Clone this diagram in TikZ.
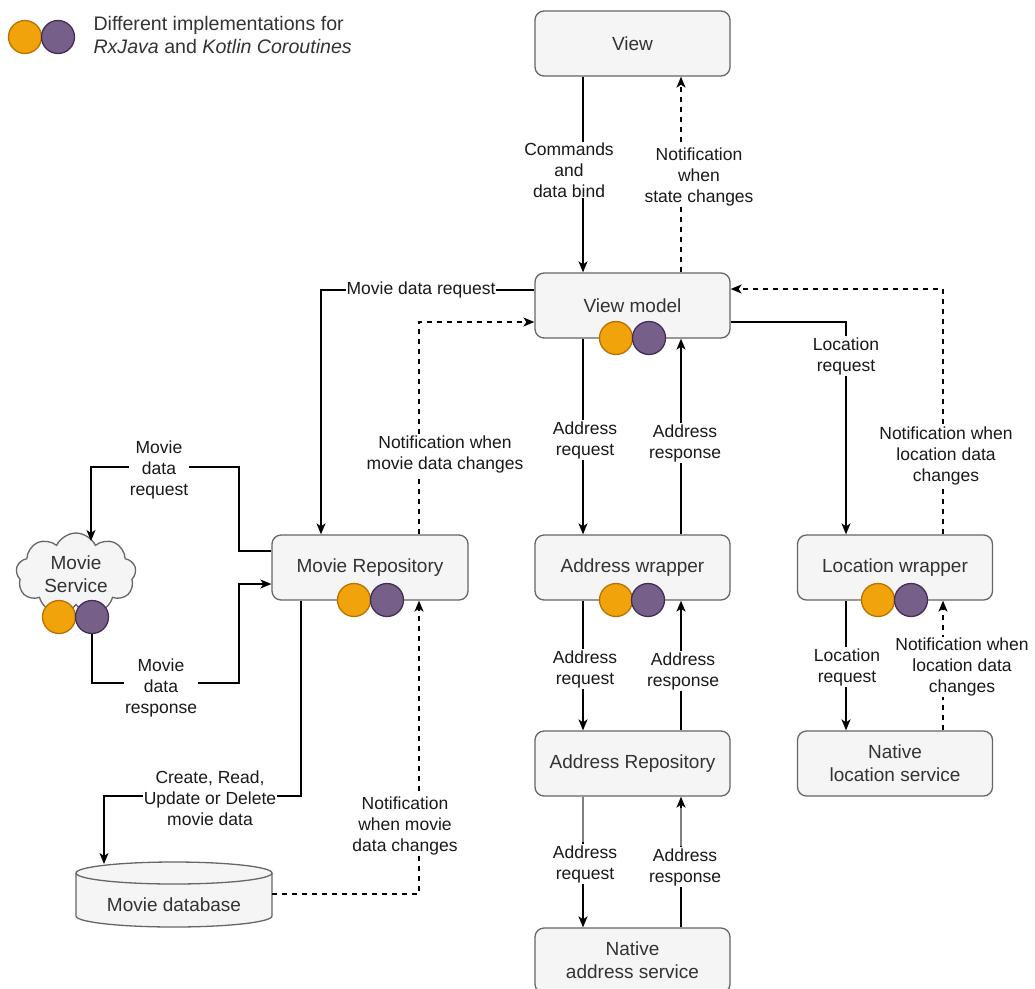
\documentclass[tikz,border=0pt]{standalone}
\usepackage{fontspec}
\setmainfont{Liberation Sans}
\usetikzlibrary{arrows.meta,shapes.symbols}
\definecolor{boxfill}{HTML}{F5F5F5}
\definecolor{boxline}{HTML}{666666}
\definecolor{boxtext}{HTML}{333333}
\definecolor{orfill}{HTML}{F0A30A}
\definecolor{orline}{HTML}{BD7000}
\definecolor{pufill}{HTML}{76608A}
\definecolor{puline}{HTML}{432D57}
\definecolor{greyline}{HTML}{808080}
\tikzset{
 box/.style={draw=boxline, fill=boxfill, line width=1.3pt, rounded corners=9pt, minimum width=195pt, minimum height=65pt, inner sep=0pt, text=boxtext, font=\fontsize{19}{23}\selectfont, align=center},
 conn/.style={line width=1.5pt, -{Stealth[length=11pt,width=9pt,inset=3pt]}},
 dconn/.style={conn, dash pattern=on 5pt off 5pt},
 lbl/.style={fill=white, inner sep=1pt, align=center, font=\fontsize{17.5}{21}\selectfont, text=black!90},
 orc/.style={circle, fill=orfill, draw=orline, line width=1.3pt, minimum size=33pt, inner sep=0pt},
 puc/.style={circle, fill=pufill, draw=puline, line width=1.3pt, minimum size=33pt, inner sep=0pt},
 greyseg/.style={draw=greyline, line width=1.6pt},
}
\begin{document}
\begin{tikzpicture}[x=1pt,y=-1pt]
\useasboundingbox (0,0) rectangle (1035,988);
\clip (0,0) rectangle (1035,988);
% boxes
\node[box] (view) at (632.5,43.5) {View};
\node[box] (vm) at (632.5,305.5) {View model};
\node[box,minimum width=196pt] (mr) at (370,567.5) {Movie Repository};
\node[box] (aw) at (632.5,567.5) {Address wrapper};
\node[box] (lw) at (895,567.5) {Location wrapper};
\node[box] (ar) at (632.5,763.5) {Address Repository};
\node[box] (nls) at (895,763.5) {Native\\location service};
\node[box] (nas) at (632.5,960.5) {Native\\address service};
% cloud
\node[cloud, cloud puffs=9, cloud puff arc=130, aspect=1.5, draw=boxline, fill=boxfill, line width=1.3pt, minimum width=120pt, minimum height=82pt, inner sep=0pt, text=boxtext, font=\fontsize{19}{23}\selectfont, align=center] (ms) at (76,574) {Movie\\Service};
\coordinate (msin) at (91,541);
% database
\node[minimum width=196pt, minimum height=65pt, inner sep=0pt] (db) at (174,894.5) {};
\fill[boxfill] (76,873) -- (76,916) .. controls (76,922.1) and (119.9,927) .. (174,927) .. controls (228.1,927) and (272,922.1) .. (272,916) -- (272,873) -- cycle;
\draw[boxline, line width=1.3pt] (76,873) -- (76,916) .. controls (76,922.1) and (119.9,927) .. (174,927) .. controls (228.1,927) and (272,922.1) .. (272,916) -- (272,873);
\draw[boxline, fill=boxfill, line width=1.3pt] (174,873) ellipse [x radius=98pt, y radius=11pt];
\node[text=boxtext, font=\fontsize{19}{23}\selectfont] (dbt) at (174,905) {Movie database};
\coordinate (dbin) at (104,864);
% circles
\node[orc] (lgo) at (25,37) {};
\node[puc] (lgp) at (58,37) {};
\node[orc] (vmo) at (616,338) {};
\node[puc] (vmp) at (649,338) {};
\node[orc] (mro) at (354,600) {};
\node[puc] (mrp) at (387,600) {};
\node[orc] (awo) at (616,600) {};
\node[puc] (awp) at (648,600) {};
\node[orc] (lwo) at (878,600) {};
\node[puc] (lwp) at (911,600) {};
\node[orc] (mso) at (59,617) {};
\node[puc] (msp) at (92,617) {};
% legend text
\node[anchor=west, align=left, font=\fontsize{19.6}{23}\selectfont, text=boxtext] (lgt) at (90,35) {Different implementations for\\\textit{RxJava} and \textit{Kotlin Coroutines}};
% connectors
\draw[conn] (view.south -| 583,0) -- (vm.north -| 583,0);
\draw[dconn] (vm.north -| 681,0) -- (view.south -| 681,0);
\draw[conn] (vm.west |- 0,290) -| (mr.north -| 321,0);
\draw[dconn] (mr.north -| 419,0) |- (vm.west |- 0,322);
\draw[conn] (vm.south -| 583,0) -- (aw.north -| 583,0);
\draw[conn] (aw.north -| 681,0) -- (vm.south -| 681,0);
\draw[conn] (vm.east |- 0,322) -| (lw.north -| 846,0);
\draw[dconn] (lw.north -| 943,0) |- (vm.east |- 0,289);
\draw[conn] (mr.west |- 0,551) -| (239,467) -| (msin);
\draw[conn] (msp.south) |- (239,683) |- (mr.west |- 0,584);
\draw[conn] (mr.south -| 301,0) -- (301,796) -| (dbin);
\draw[dconn] (db.east |- 0,894) -| (mr.south -| 419,0);
\draw[conn] (aw.south -| 583,0) -- (ar.north -| 583,0);
\draw[conn] (ar.north -| 681,0) -- (aw.south -| 681,0);
\draw[conn] (lw.south -| 846,0) -- (nls.north -| 846,0);
\draw[dconn] (nls.north -| 943,0) -- (lw.south -| 943,0);
\draw[conn] (ar.south -| 583,0) -- (nas.north -| 583,0);
\draw[conn] (nas.north -| 681,0) -- (ar.south -| 681,0);
\draw[greyseg] (ar.south -| 583,0) ++(0,0.8) -- (583,842);
\draw[greyseg] (681,808) -- (681,846);
% labels
\node[lbl] (l1) at (569,170) {Commands\\and\\data bind};
\node[lbl] (l2) at (699,177) {Notification\\when\\state changes};
\node[lbl] (l3) at (421,290) {Movie data request};
\node[lbl] (l4) at (445,454) {Notification when\\movie data changes};
\node[lbl] (l5) at (159,470) {Movie\\data\\request};
\node[lbl] (l6) at (161,688) {Movie\\data\\response};
\node[lbl] (l7) at (210,798) {Create, Read,\\Update or Delete\\movie data};
\node[lbl] (l8) at (405,826) {Notification\\when movie\\data changes};
\node[lbl] (l9) at (585,440) {Address\\request};
\node[lbl] (l10) at (685,443) {Address\\response};
\node[lbl] (l11) at (846,356) {Location\\request};
\node[lbl] (l12) at (946,456) {Notification when\\location data\\changes};
\node[lbl] (l13) at (585,669) {Address\\request};
\node[lbl] (l14) at (683,671) {Address\\response};
\node[lbl] (l15) at (847,667) {Location\\request};
\node[lbl] (l16) at (962,667) {Notification when\\location data\\changes};
\node[lbl] (l17) at (585,864) {Address\\request};
\node[lbl] (l18) at (685,867) {Address\\response};
\end{tikzpicture}
\end{document}
